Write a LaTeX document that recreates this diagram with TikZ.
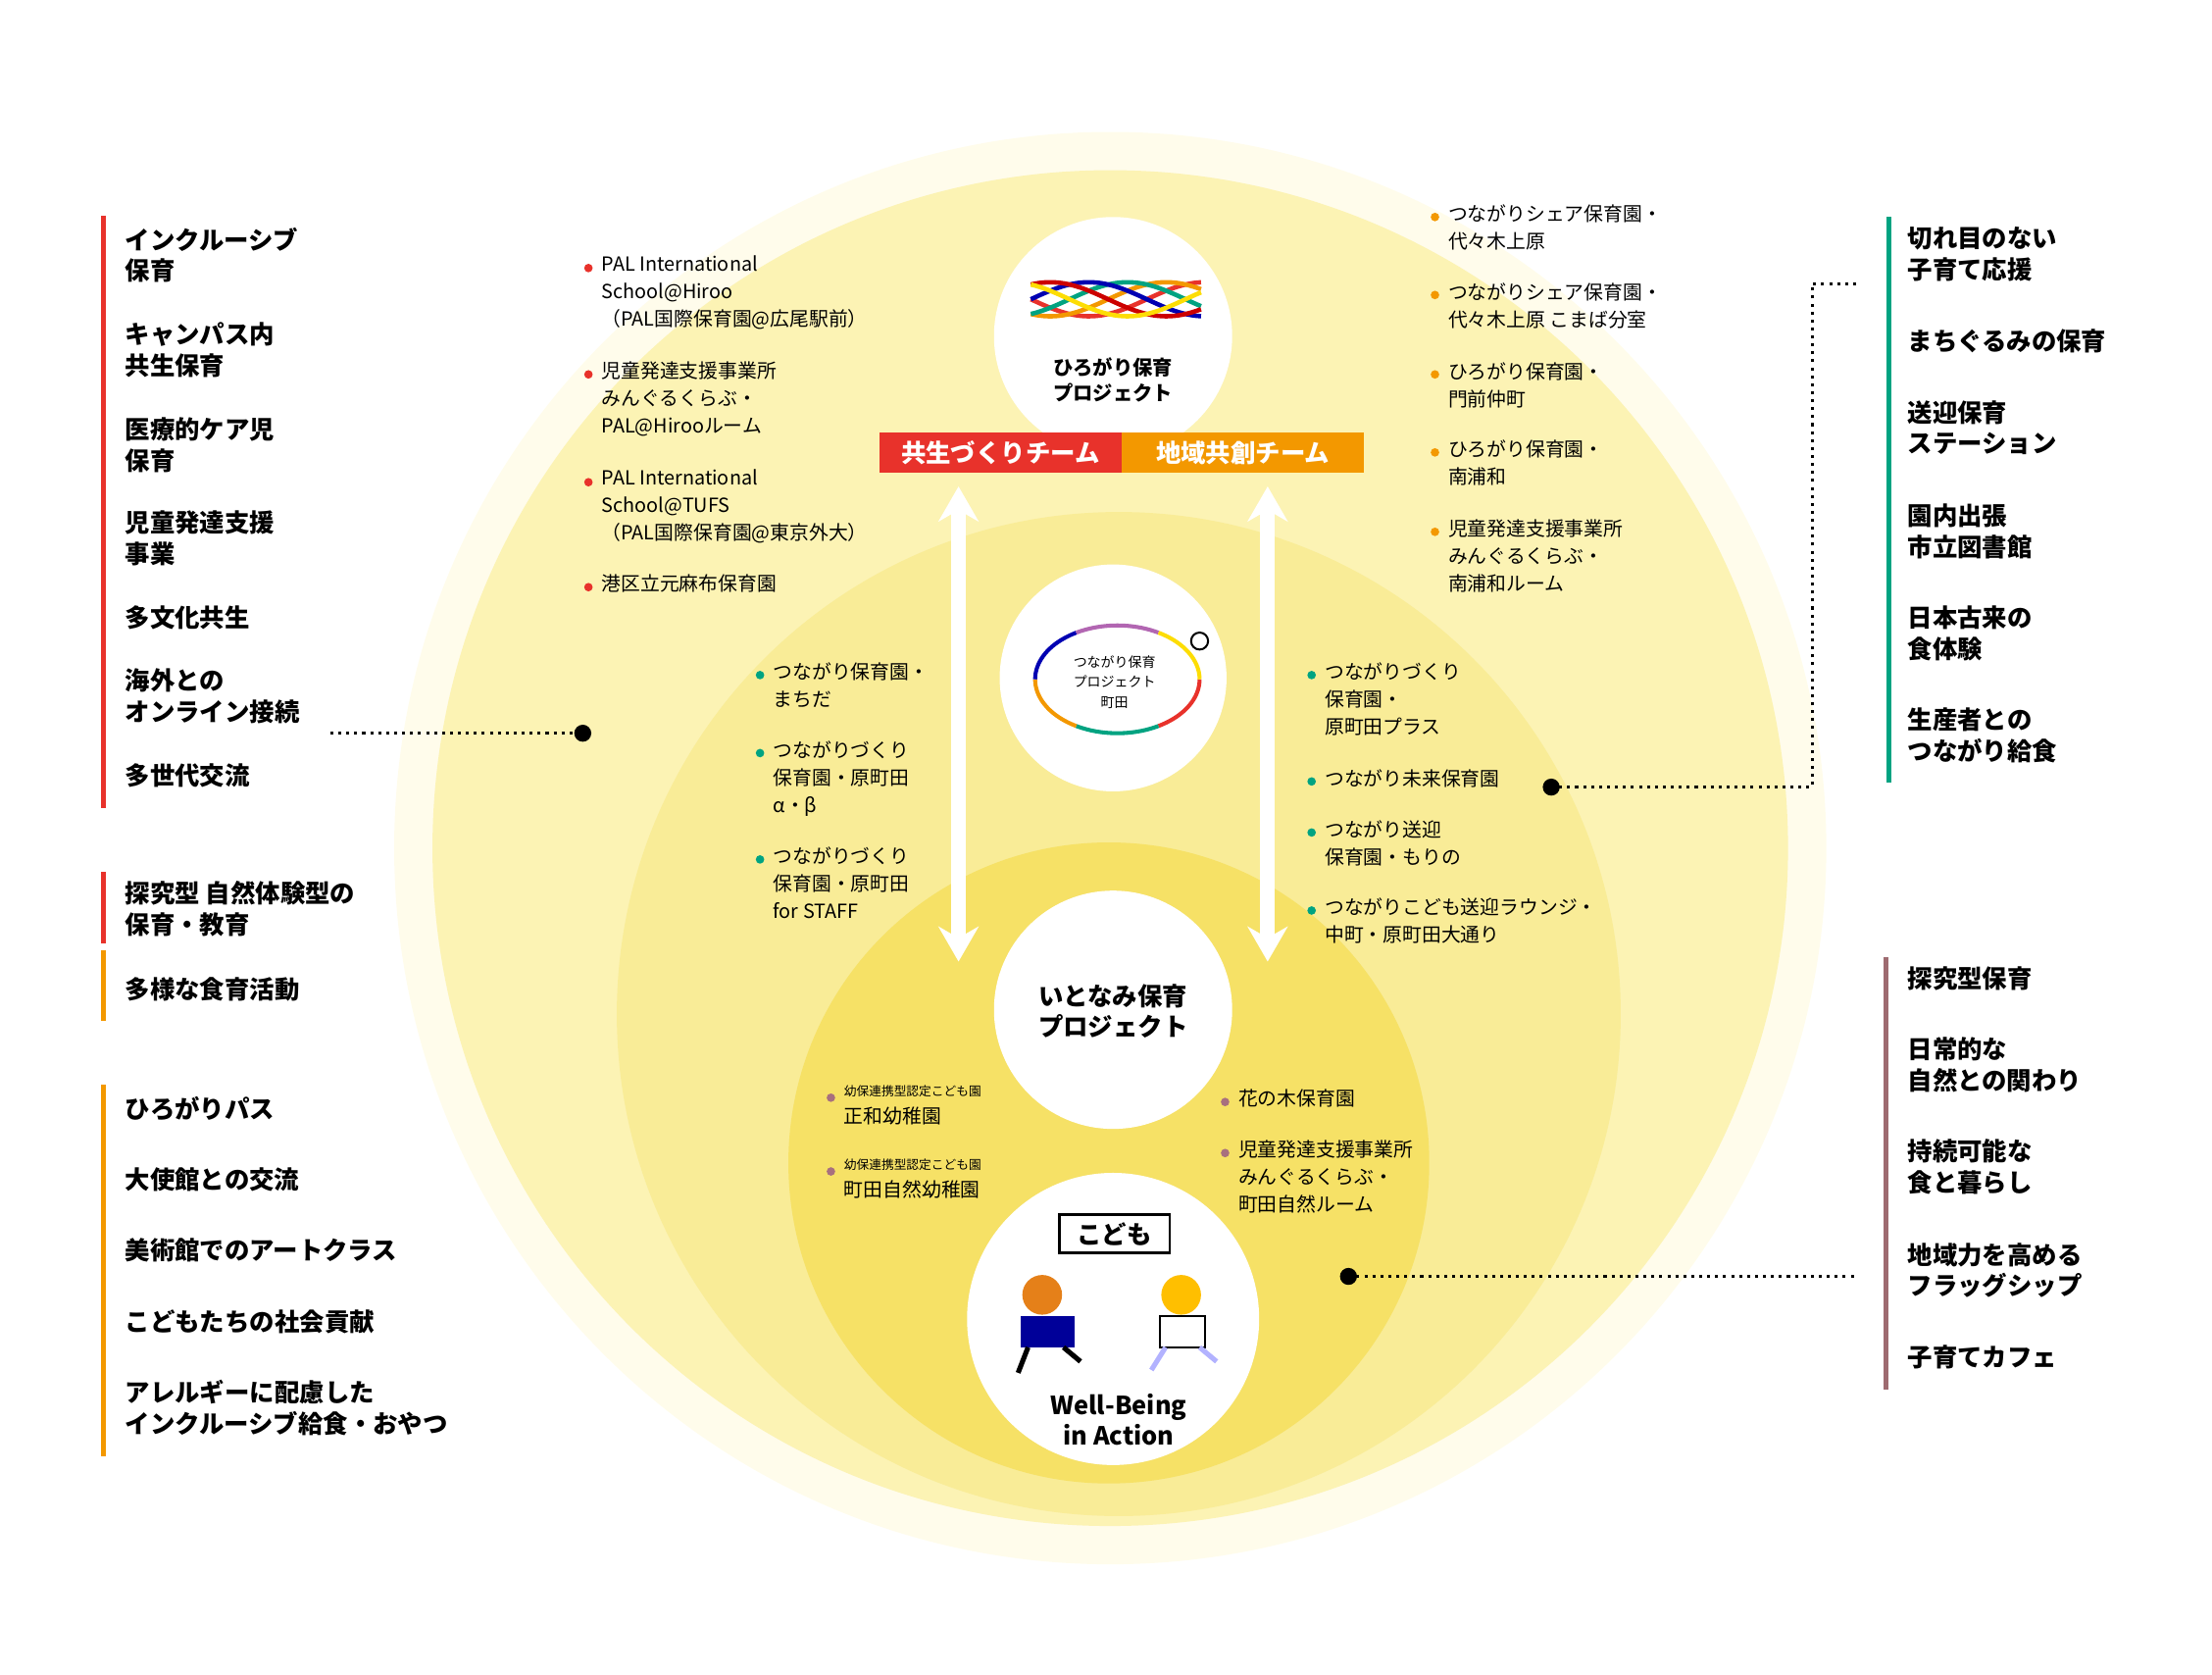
\documentclass[tikz,border=0pt]{standalone}
\usepackage{fontspec}
\setmainfont{Noto Sans CJK JP}
\usetikzlibrary{calc,positioning,arrows.meta}
\definecolor{cred}{HTML}{E8322B}
\definecolor{corange}{HTML}{F39800}
\definecolor{cgreen}{HTML}{00A381}
\definecolor{cmauve}{HTML}{9E6B70}
\definecolor{cdot}{HTML}{A8707E}
\definecolor{yA}{HTML}{FFFCEB}
\definecolor{yB}{HTML}{FCF3B4}
\definecolor{yC}{HTML}{F9EC97}
\definecolor{yD}{HTML}{F6E166}
\tikzset{
  head/.style={anchor=north west,inner sep=0,align=left,font=\fontsize{10}{12.5}\selectfont\bfseries},
  item/.style={anchor=north west,inner sep=0,align=left,font=\fontsize{7.8}{11}\selectfont},
  wcirc/.style={circle,fill=white,inner sep=0},
  conn/.style={dotted,line width=1.2pt},
  bar/.style={line width=2pt}
}
\newcommand{\itm}[5]{% color, name, x, y, text
  \fill[#1] (#3-12,#4) circle (3);
  \node[item] (#2) at (#3-3,#4-9) {#5};}
\begin{document}
\begin{tikzpicture}[x=0.02cm,y=-0.02cm]
\useasboundingbox (0,0) rectangle (1560,1181);
% circles
\fill[yA] (783,598) circle (505);
\fill[yB] (783,598) circle (478);
\fill[yC] (789,715) circle (354);
\fill[yD] (782,820) circle (226);
\node[wcirc,minimum size=168*0.02cm] (hiro) at (785,237) {};
\node[wcirc,minimum size=160*0.02cm] (tsuna) at (785,478) {};
\node[wcirc,minimum size=168*0.02cm] (ito) at (785,712) {};
\node[wcirc,minimum size=206*0.02cm] (kodo) at (785,930) {};
% top logo
\foreach \c/\p in {cred/0,corange/60,cgreen/120,blue!70!black/180,red!80!black/240,yellow!80!orange/300}
  \draw[\c,line width=1.8pt,smooth] plot[domain=727:847,samples=40] (\x,{211+12*sin((\x-727)*2.2+\p)});
\node[font=\fontsize{8}{10}\selectfont\bfseries,align=center] at (785,268) {ひろがり保育\\プロジェクト};
\node[fill=cred,text=white,font=\fontsize{10}{12}\selectfont\bfseries,minimum width=171*0.02cm,minimum height=28*0.02cm,inner sep=0] (team1) at (705.5,319) {共生づくりチーム};
\node[fill=corange,text=white,font=\fontsize{10}{12}\selectfont\bfseries,minimum width=171*0.02cm,minimum height=28*0.02cm,inner sep=0] (team2) at (876.5,319) {地域共創チーム};
% middle logo
\foreach \a/\b/\c in {0/60/cred,60/120/cgreen,120/180/corange,180/240/blue!70!black,240/300/violet!60,300/360/yellow!80!orange}
  \draw[\c,line width=1.6pt,smooth] plot[domain=\a:\b,samples=20] ({788+58*cos(\x)},{479+38*sin(\x)});
\draw[line width=0.8pt] (846,452) circle (6);
\node[font=\fontsize{5.5}{8}\selectfont,align=center] at (786,481) {つながり保育\\プロジェクト\\町田};
% arrows
\draw[white,line width=6pt,{Stealth[length=14pt,width=16pt]}-{Stealth[length=14pt,width=16pt]}] (676,343) -- (676,678);
\draw[white,line width=6pt,{Stealth[length=14pt,width=16pt]}-{Stealth[length=14pt,width=16pt]}] (894,343) -- (894,678);
% itonami / kodomo
\node[font=\fontsize{10}{12.5}\selectfont\bfseries,align=center] at (785,713) {いとなみ保育\\プロジェクト};
\node[draw,fill=white,line width=1pt,font=\fontsize{10}{12}\selectfont\bfseries,minimum width=78*0.02cm,minimum height=27*0.02cm,inner sep=0] (kbox) at (786,870) {こども};
\node[font=\fontsize{10}{12.5}\selectfont\bfseries,align=center] at (789,1001) {Well-Being\\in Action};
% kids
\fill[orange!60!brown] (735,913) circle (14);
\fill[blue!60!black] (720,928) rectangle (758,950);
\draw[line width=2pt] (725,950) -- (718,968) (750,950) -- (762,960);
\fill[orange!50!yellow] (833,913) circle (14);
\draw[fill=white,line width=0.8pt] (818,928) rectangle (850,950);
\draw[line width=2pt,blue!30] (822,950) -- (812,966) (846,950) -- (858,960);
% red items
\itm{cred}{r1}{427}{189}{PAL International\\School@Hiroo\\（PAL国際保育園@広尾駅前）}
\itm{cred}{r2}{427}{264}{児童発達支援事業所\\みんぐるくらぶ・\\PAL@Hirooルーム}
\itm{cred}{r3}{427}{340}{PAL International\\School@TUFS\\（PAL国際保育園@東京外大）}
\itm{cred}{r4}{427}{414}{港区立元麻布保育園}
% orange items
\itm{corange}{o1}{1024}{153}{つながりシェア保育園・\\代々木上原}
\itm{corange}{o2}{1024}{208}{つながりシェア保育園・\\代々木上原 こまば分室}
\itm{corange}{o3}{1024}{264}{ひろがり保育園・\\門前仲町}
\itm{corange}{o4}{1024}{319}{ひろがり保育園・\\南浦和}
\itm{corange}{o5}{1024}{375}{児童発達支援事業所\\みんぐるくらぶ・\\南浦和ルーム}
% green items
\itm{cgreen}{g1}{548}{476}{つながり保育園・\\まちだ}
\itm{cgreen}{g2}{548}{531}{つながりづくり\\保育園・原町田\\α・β}
\itm{cgreen}{g3}{548}{606}{つながりづくり\\保育園・原町田\\for STAFF}
\itm{cgreen}{g4}{937}{476}{つながりづくり\\保育園・\\原町田プラス}
\itm{cgreen}{g5}{937}{551}{つながり未来保育園}
\itm{cgreen}{g6}{937}{587}{つながり送迎\\保育園・もりの}
\itm{cgreen}{g7}{937}{642}{つながりこども送迎ラウンジ・\\中町・原町田大通り}
% inner items
\itm{cdot}{m1}{598}{774}{{\fontsize{5}{6}\selectfont 幼保連携型認定こども園}\\正和幼稚園}
\itm{cdot}{m2}{598}{826}{{\fontsize{5}{6}\selectfont 幼保連携型認定こども園}\\町田自然幼稚園}
\itm{cdot}{m3}{876}{777}{花の木保育園}
\itm{cdot}{m4}{876}{813}{児童発達支援事業所\\みんぐるくらぶ・\\町田自然ルーム}
% left headings
\draw[bar,cred] (73,152) -- (73,570) (73,615) -- (73,665);
\draw[bar,corange] (73,670) -- (73,720) (73,765) -- (73,1027);
\node[head] (l1) at (88,160) {インクルーシブ\\保育};
\node[head] (l2) at (88,227) {キャンパス内\\共生保育};
\node[head] (l3) at (88,294) {医療的ケア児\\保育};
\node[head] (l4) at (88,360) {児童発達支援\\事業};
\node[head] (l5) at (88,427) {多文化共生};
\node[head] (l6) at (88,471) {海外との\\オンライン接続};
\node[head] (l7) at (88,538) {多世代交流};
\node[head] (l8) at (88,621) {探究型 自然体験型の\\保育・教育};
\node[head] (l9) at (88,689) {多様な食育活動};
\node[head] (l10) at (88,773) {ひろがりパス};
\node[head] (l11) at (88,823) {大使館との交流};
\node[head] (l12) at (88,873) {美術館でのアートクラス};
\node[head] (l13) at (88,923) {こどもたちの社会貢献};
\node[head] (l14) at (88,973) {アレルギーに配慮した\\インクルーシブ給食・おやつ};
% right headings
\draw[bar,cgreen] (1332,153) -- (1332,552);
\draw[bar,cmauve] (1330,675) -- (1330,980);
\node[head] (q1) at (1345,160) {切れ目のない\\子育て応援};
\node[head] (q2) at (1345,232) {まちぐるみの保育};
\node[head] (q3) at (1345,282) {送迎保育\\ステーション};
\node[head] (q4) at (1345,355) {園内出張\\市立図書館};
\node[head] (q5) at (1345,427) {日本古来の\\食体験};
\node[head] (q6) at (1345,499) {生産者との\\つながり給食};
\node[head] (q7) at (1345,681) {探究型保育};
\node[head] (q8) at (1345,731) {日常的な\\自然との関わり};
\node[head] (q9) at (1345,803) {持続可能な\\食と暮らし};
\node[head] (q10) at (1345,876) {地域力を高める\\フラッグシップ};
\node[head] (q11) at (1345,948) {子育てカフェ};
% connectors
\fill (411,517) circle (6) coordinate (d1);
\fill (1094,555) circle (6) coordinate (d2);
\fill (951,900) circle (6) coordinate (d3);
\coordinate (e1) at (233,517);
\coordinate (e2) at (1310,200);
\coordinate (e3) at (1308,900);
\draw[conn] (e1) -- (d1);
\draw[conn] (d2) -- (1278,555) -- (1278,200) -- (e2);
\draw[conn] (d3) -- (e3);
\end{tikzpicture}
\end{document}
